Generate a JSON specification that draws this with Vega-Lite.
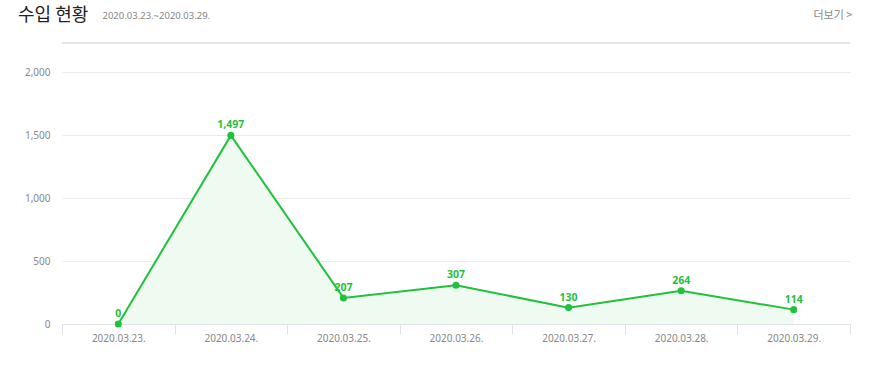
{
  "$schema": "https://vega.github.io/schema/vega-lite/v6.json",
  "width": 788,
  "height": 252,
  "autosize": {"type": "none"},
  "padding": {"left": 62, "top": 72, "right": 24, "bottom": 44},
  "background": "white",
  "title": {
    "text": "수입 현황",
    "anchor": "start",
    "frame": "group",
    "dx": -44,
    "font": "Noto Sans CJK KR",
    "fontSize": 18,
    "fontWeight": "normal",
    "color": "#222222",
    "baseline": "alphabetic",
    "offset": -29
  },
  "config": {
    "view": {"stroke": null},
    "font": "Noto Sans"
  },
  "data": {
    "values": [
      {"date": "2020.03.23.", "value": 0},
      {"date": "2020.03.24.", "value": 1497},
      {"date": "2020.03.25.", "value": 207},
      {"date": "2020.03.26.", "value": 307},
      {"date": "2020.03.27.", "value": 130},
      {"date": "2020.03.28.", "value": 264},
      {"date": "2020.03.29.", "value": 114}
    ]
  },
  "encoding": {
    "x": {
      "field": "date",
      "type": "nominal",
      "sort": null,
      "scale": {"type": "band", "paddingInner": 0, "paddingOuter": 0},
      "axis": {
        "title": "더보기   >",
        "titleX": 751,
        "titleY": -305.5,
        "titleAlign": "left",
        "titleBaseline": "alphabetic",
        "titleAngle": 0,
        "titleFont": "Noto Sans CJK KR",
        "titleFontSize": 11,
        "titleFontWeight": "normal",
        "titleColor": "#888888",
        "labelAngle": 0,
        "labelFont": "Noto Sans",
        "labelFontSize": 10,
        "labelColor": "#888888",
        "labelPadding": -1,
        "tickBand": "extent",
        "tickSize": 10,
        "tickColor": "#dfe3ea",
        "domainColor": "#dfe3ea",
        "grid": false
      }
    },
    "y": {
      "field": "value",
      "type": "quantitative",
      "scale": {"domain": [0, 2000], "nice": false},
      "axis": {
        "values": [0, 500, 1000, 1500, 2000],
        "format": ",d",
        "title": "2020.03.23.~2020.03.29.",
        "titleX": 40,
        "titleY": -53.5,
        "titleAlign": "left",
        "titleBaseline": "alphabetic",
        "titleAngle": 0,
        "titleFont": "Noto Sans",
        "titleFontSize": 9.5,
        "titleFontWeight": "normal",
        "titleColor": "#888888",
        "labelFont": "Noto Sans",
        "labelFontSize": 10,
        "labelColor": "#888888",
        "labelPadding": 12,
        "ticks": false,
        "tickSize": 0,
        "domain": false,
        "grid": true,
        "gridColor": "#ebebeb"
      }
    }
  },
  "layer": [
    {
      "mark": {"type": "area", "color": "#effaf1", "opacity": 1}
    },
    {
      "mark": {"type": "line", "color": "#1fc13d", "strokeWidth": 2}
    },
    {
      "mark": {"type": "point", "filled": true, "color": "#1fc13d", "size": 50, "opacity": 1}
    },
    {
      "mark": {"type": "text", "color": "#1fc13d", "font": "Noto Sans", "fontSize": 10.5, "fontWeight": "bold", "baseline": "alphabetic", "dy": -7},
      "encoding": {"text": {"field": "value", "type": "quantitative", "format": ",d"}}
    },
    {
      "mark": {"type": "rule", "color": "#e6e6e6", "strokeWidth": 1},
      "encoding": {"x": null, "y": {"datum": 2230}}
    }
  ]
}
